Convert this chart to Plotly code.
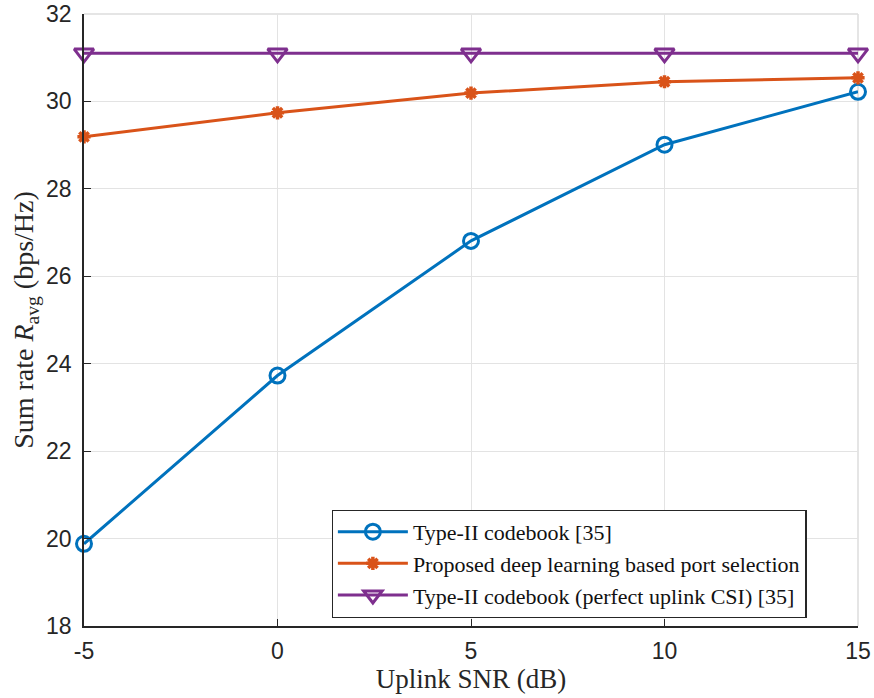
import plotly.graph_objects as go

# Uplink SNR sweep (dB)
snr_db = [-5, 0, 5, 10, 15]

# Average sum rate (bps/Hz) for each scheme
rate_type2 = [19.88, 23.73, 26.81, 29.01, 30.22]
rate_proposed = [29.19, 29.74, 30.19, 30.45, 30.54]
rate_type2_perfect = [31.1, 31.1, 31.1, 31.1, 31.1]

names = [
    "Type-II codebook [35]",
    "Proposed deep learning based port selection",
    "Type-II codebook (perfect uplink CSI) [35]",
]

x_ticks = [-5, 0, 5, 10, 15]
y_ticks = [18, 20, 22, 24, 26, 28, 30, 32]

BLUE = "#0072BD"
ORANGE = "#D95319"
PURPLE = "#7E2F8E"
AXIS = "#262626"
SERIF = "Liberation Serif, DejaVu Serif, serif"
SANS = "Liberation Sans, Arial, Helvetica, sans-serif"

fig = go.Figure()

fig.add_trace(go.Scatter(
    x=snr_db, y=rate_type2, name=names[0], mode="lines+markers", cliponaxis=False,
    line=dict(color=BLUE, width=3),
    marker=dict(symbol="circle-open", size=15, color=BLUE, line=dict(width=3, color=BLUE)),
))
fig.add_trace(go.Scatter(
    x=snr_db, y=rate_proposed, name=names[1], mode="lines+markers", cliponaxis=False,
    line=dict(color=ORANGE, width=3),
    marker=dict(symbol="asterisk-open", size=11, color=ORANGE, line=dict(width=3.5, color=ORANGE)),
))
fig.add_trace(go.Scatter(
    x=snr_db, y=rate_type2_perfect, name=names[2], mode="lines+markers", cliponaxis=False,
    line=dict(color=PURPLE, width=3),
    marker=dict(symbol="triangle-down-open", size=17, color=PURPLE, line=dict(width=3, color=PURPLE)),
))

# Light frame on the top and right edges of the plotting area
fig.add_shape(type="line", xref="paper", yref="paper", x0=0, x1=1, y0=1, y1=1,
              line=dict(color="#dcdcdc", width=1.5), layer="below")
fig.add_shape(type="line", xref="paper", yref="paper", x0=1, x1=1, y0=0, y1=1,
              line=dict(color="#dcdcdc", width=1.5), layer="below")

fig.update_layout(
    width=874, height=698,
    margin=dict(l=84, r=16, t=14, b=72, autoexpand=False),
    paper_bgcolor="white", plot_bgcolor="white",
    showlegend=True,
    legend=dict(
        x=0.32, y=0.19, xanchor="left", yanchor="top",
        bgcolor="white", bordercolor=AXIS, borderwidth=1.2,
        font=dict(family=SERIF, size=22, color="#111111"),
        tracegroupgap=0, itemwidth=70,
    ),
)

fig.update_xaxes(
    range=[-5, 15], tickvals=x_ticks, ticktext=[str(v) for v in x_ticks],
    automargin=False,
    showgrid=True, gridcolor="#e3e3e3", gridwidth=1,
    showline=True, linecolor=AXIS, linewidth=1.5,
    ticks="inside", ticklen=7, tickcolor=AXIS, tickwidth=1.2,
    ticklabelstandoff=4,
    tickfont=dict(family=SANS, size=23, color=AXIS),
    zeroline=False,
    title=dict(text="Uplink SNR (dB)", font=dict(family=SERIF, size=27, color=AXIS), standoff=6),
)
fig.update_yaxes(
    range=[18, 32], tickvals=y_ticks, ticktext=[str(v) for v in y_ticks],
    automargin=False,
    showgrid=True, gridcolor="#e3e3e3", gridwidth=1,
    showline=True, linecolor=AXIS, linewidth=1.5,
    ticks="inside", ticklen=7, tickcolor=AXIS, tickwidth=1.2,
    ticklabelstandoff=6,
    tickfont=dict(family=SANS, size=23, color=AXIS),
    zeroline=False,
    title=dict(text="Sum rate <i>R</i><sub>avg</sub> (bps/Hz)",
               font=dict(family=SERIF, size=28, color=AXIS), standoff=4),
)

fig.write_html("out.html")
